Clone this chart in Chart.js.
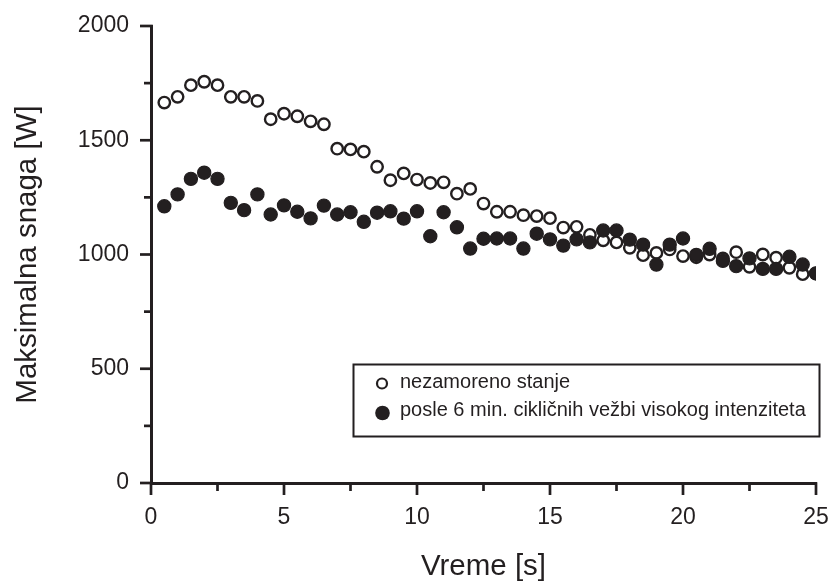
<!DOCTYPE html>
<html>
<head>
<meta charset="utf-8">
<script src="https://cdn.jsdelivr.net/npm/chart.js@4/dist/chart.umd.min.js"></script>
<style>
  html, body { margin: 0; padding: 0; background: #ffffff; }
  #wrap { width: 828px; height: 582px; position: relative; }
</style>
</head>
<body>
<div id="wrap"><canvas id="c" width="828" height="582"></canvas></div>
<script>
// ---- data ----
const times = [0.5, 1.0, 1.5, 2.0, 2.5, 3.0, 3.5, 4.0, 4.5, 5.0,
               5.5, 6.0, 6.5, 7.0, 7.5, 8.0, 8.5, 9.0, 9.5, 10.0,
               10.5, 11.0, 11.5, 12.0, 12.5, 13.0, 13.5, 14.0, 14.5, 15.0,
               15.5, 16.0, 16.5, 17.0, 17.5, 18.0, 18.5, 19.0, 19.5, 20.0,
               20.5, 21.0, 21.5, 22.0, 22.5, 23.0, 23.5, 24.0, 24.5, 25.0];

const restedPower = [1665, 1690, 1741, 1756, 1741, 1690, 1690, 1672, 1592, 1616,
                     1605, 1583, 1570, 1463, 1460, 1450, 1384, 1325, 1355, 1328,
                     1313, 1316, 1266, 1287, 1223, 1187, 1187, 1172, 1168, 1159,
                     1118, 1121, 1086, 1062, 1053, 1029, 997, 1007, 1022, 993,
                     988, 1000, 983, 1010, 946, 1000, 986, 942, 914, 917];

const fatiguedPower = [1211, 1263, 1331, 1358, 1331, 1226, 1194, 1263, 1175, 1215,
                       1187, 1158, 1214, 1175, 1185, 1143, 1183, 1189, 1157, 1189,
                       1080, 1185, 1119, 1026, 1069, 1070, 1070, 1026, 1091, 1066,
                       1039, 1066, 1053, 1105, 1105, 1065, 1043, 956, 1043, 1070,
                       998, 1025, 972, 949, 983, 937, 937, 990, 956, 917];

const seriesLabels = ['nezamoreno stanje', 'posle 6 min. cikličnih vežbi visokog intenziteta'];
const xTitle = 'Vreme [s]';
const yTitle = 'Maksimalna snaga [W]';
const xTickLabels = [0, 5, 10, 15, 20, 25];
const yTickLabels = [0, 500, 1000, 1500, 2000];

// ---- styling ----
const INK = '#231f20';
const FONT = '"Liberation Sans", Arial, Helvetica, sans-serif';
Chart.defaults.font.family = FONT;
Chart.defaults.color = INK;

const toPoints = (xs, ys) => xs.map((x, i) => ({ x: x, y: ys[i] }));

const tickMarks = {
  id: 'tickMarks',
  afterDraw(chart) {
    const { ctx, scales } = chart;
    const xs = scales.x, ys = scales.y;
    const axisY = xs.top + 0.5;
    const axisX = ys.right + 0.5;
    ctx.save();
    ctx.strokeStyle = INK;
    ctx.lineWidth = 2.7;
    ctx.lineCap = 'butt';
    xs.ticks.forEach(t => {
      const px = xs.getPixelForValue(t.value);
      const len = xTickLabels.includes(t.value) ? 11.5 : 7.5;
      ctx.beginPath();
      ctx.moveTo(px, axisY - 1.3);
      ctx.lineTo(px, axisY + len);
      ctx.stroke();
    });
    ys.ticks.forEach(t => {
      const py = ys.getPixelForValue(t.value);
      const len = yTickLabels.includes(t.value) ? 11.5 : 7.5;
      ctx.beginPath();
      ctx.moveTo(axisX + 1.3, py);
      ctx.lineTo(axisX - len, py);
      ctx.stroke();
    });
    ctx.restore();
  }
};

const legendBox = {
  id: 'legendBox',
  afterDraw(chart) {
    const ctx = chart.ctx;
    const bx = 353.5, by = 364.5, bw = 466, bh = 72;
    ctx.save();
    ctx.fillStyle = '#ffffff';
    ctx.fillRect(bx, by, bw, bh);
    ctx.strokeStyle = INK;
    ctx.lineWidth = 2;
    ctx.strokeRect(bx, by, bw, bh);

    ctx.beginPath();
    ctx.arc(382, 383.5, 5, 0, Math.PI * 2);
    ctx.fillStyle = '#ffffff';
    ctx.fill();
    ctx.lineWidth = 2.2;
    ctx.strokeStyle = INK;
    ctx.stroke();

    ctx.beginPath();
    ctx.arc(382.5, 413, 7.3, 0, Math.PI * 2);
    ctx.fillStyle = INK;
    ctx.fill();

    ctx.fillStyle = INK;
    ctx.font = '20px ' + FONT;
    ctx.textBaseline = 'middle';
    ctx.textAlign = 'left';
    const ds = chart.data.datasets;
    ctx.fillText(ds[0].label, 400, 382.5);
    ctx.fillText(ds[1].label, 400, 410.8);
    ctx.restore();
  }
};

new Chart(document.getElementById('c'), {
  type: 'scatter',
  data: {
    datasets: [
      {
        label: seriesLabels[0],
        data: toPoints(times, restedPower),
        pointRadius: 5.7,
        pointHoverRadius: 5.7,
        pointBorderWidth: 2.4,
        pointBackgroundColor: '#ffffff',
        pointBorderColor: INK,
        showLine: false,
        order: 1
      },
      {
        label: seriesLabels[1],
        data: toPoints(times, fatiguedPower),
        pointRadius: 6.6,
        pointHoverRadius: 6.6,
        pointBorderWidth: 1.2,
        pointBackgroundColor: INK,
        pointBorderColor: INK,
        showLine: false,
        order: 0
      }
    ]
  },
  options: {
    responsive: false,
    maintainAspectRatio: false,
    animation: false,
    events: [],
    layout: { padding: { left: 0, right: 12, top: 26, bottom: 0 } },
    plugins: {
      legend: { display: false },
      tooltip: { enabled: false }
    },
    scales: {
      x: {
        type: 'linear',
        min: 0,
        max: 25,
        afterFit(scale) {
          scale.height = 99;
          scale.paddingLeft = 0; scale.paddingRight = 0;
          scale.paddingTop = 0; scale.paddingBottom = 0;
        },
        grid: { display: false, drawTicks: false },
        border: { display: true, color: INK, width: 3 },
        ticks: {
          stepSize: 2.5,
          autoSkip: false,
          maxRotation: 0,
          padding: 21,
          color: INK,
          font: { size: 23 },
          callback: v => (xTickLabels.includes(v) ? String(v) : '')
        },
        title: {
          display: true,
          text: xTitle,
          color: INK,
          font: { size: 29.5, lineHeight: 1 },
          padding: { top: 0, bottom: 0.4 }
        }
      },
      y: {
        type: 'linear',
        min: 0,
        max: 2000,
        afterFit(scale) {
          scale.width = 151;
          scale.paddingLeft = 0; scale.paddingRight = 0;
          scale.paddingTop = 0; scale.paddingBottom = 0;
        },
        grid: { display: false, drawTicks: false },
        border: { display: true, color: INK, width: 3 },
        ticks: {
          stepSize: 250,
          autoSkip: false,
          padding: 22,
          color: INK,
          font: { size: 23 },
          callback: v => (yTickLabels.includes(v) ? String(v) : '')
        },
        title: {
          display: true,
          text: yTitle,
          color: INK,
          font: { size: 29.5, lineHeight: 1 },
          padding: { top: 13, bottom: 0 }
        }
      }
    }
  },
  plugins: [tickMarks, legendBox]
});
</script>
</body>
</html>
